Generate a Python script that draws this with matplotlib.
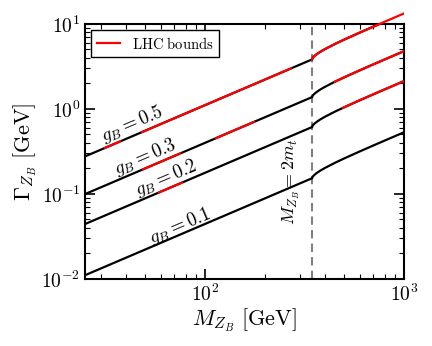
"""Anchura total del Z_B frente a su masa, con los tramos excluidos por el LHC."""

import matplotlib

matplotlib.use("Agg")
import matplotlib.pyplot as plt
from matplotlib.lines import Line2D
from matplotlib.patches import Rectangle

plt.rcParams.update({
    "mathtext.fontset": "cm",
    "font.family": "serif",
    "font.serif": ["cmr10"],
    "axes.formatter.use_mathtext": True,
    "axes.unicode_minus": False,
})

# --- datos ---
masas = [25, 346, 347, 350, 355, 365, 380, 400, 450, 500, 600, 700, 800, 1000]  # GeV
ancho_05 = [0.276, 3.824, 3.922, 4.042, 4.183, 4.407, 4.691, 5.031, 5.798, 6.515, 7.895, 9.246, 10.586, 13.25]
ancho_03 = [0.0995, 1.377, 1.412, 1.455, 1.506, 1.586, 1.689, 1.811, 2.087, 2.345, 2.842, 3.329, 3.811, 4.770]
ancho_02 = [0.0442, 0.612, 0.628, 0.647, 0.669, 0.705, 0.751, 0.805, 0.928, 1.042, 1.263, 1.479, 1.694, 2.120]
ancho_01 = [0.01105, 0.1530, 0.1569, 0.1617, 0.1673, 0.1763, 0.1877, 0.2012, 0.2319, 0.2606, 0.3158, 0.3699, 0.4234, 0.5300]

# intervalos de masa (GeV) con cotas del LHC
cotas_05 = [(31, 38), (47.5, 275), (340, 1000)]
cotas_03 = [(48.5, 75.5), (113, 178), (443, 1000)]
cotas_02 = [(58.4, 77.3), (490, 1000)]
cotas_01 = []

curvas = [
    ("0.5", ancho_05, cotas_05, (43, 0.66)),
    ("0.3", ancho_03, cotas_03, (50, 0.275)),
    ("0.2", ancho_02, cotas_02, (64, 0.155)),
    ("0.1", ancho_01, cotas_01, (75, 0.042)),
]
M_UMBRAL = 346  # 2 m_t

fig = plt.figure(figsize=(4.32, 3.46), dpi=100)
ax = fig.add_axes([0.197, 0.194, 0.738, 0.737])
ax.set_xscale("log")
ax.set_yscale("log")
ax.set_xlim(25, 1000)
ax.set_ylim(1e-2, 10)

for g, ancho, cotas, pos in curvas:
    ax.plot(masas, ancho, color="black", lw=1.6, zorder=3)
    for lo, hi in cotas:
        (roja,) = ax.plot(masas, ancho, color="red", lw=1.6, zorder=4)
        roja.set_clip_path(Rectangle((lo, 1e-4), hi - lo, 1e4, transform=ax.transData))
    ax.text(pos[0], pos[1], rf"$g_B = {g}$", rotation=23, fontsize=13.5,
            ha="center", va="center", rotation_mode="anchor")

ax.axvline(M_UMBRAL, color="#808080", ls=(0, (4, 2.5)), lw=1.5, zorder=2)
ax.text(272, 0.14, r"$M_{Z_B} = 2m_t$", rotation=90, fontsize=13,
        ha="center", va="center")

ax.set_xlabel(r"$M_{Z_B}\ [\mathrm{GeV}]$", fontsize=16, labelpad=1)
ax.set_ylabel(r"$\Gamma_{Z_B}\ [\mathrm{GeV}]$", fontsize=16, labelpad=2)

ax.tick_params(which="both", direction="in", top=True, right=True, labelsize=14)
ax.tick_params(which="major", length=7, width=1.2)
ax.tick_params(which="minor", length=3.5, width=0.8)
for s in ax.spines.values():
    s.set_linewidth(1.5)

leg = ax.legend([Line2D([], [], color="red", lw=1.6)], [r"$\mathrm{LHC\ bounds}$"],
                loc="upper left", fontsize=10.5, fancybox=False, framealpha=1,
                borderaxespad=0.4, handlelength=1.6)
leg.get_frame().set_edgecolor("black")

fig.savefig("out.png", dpi=100)
